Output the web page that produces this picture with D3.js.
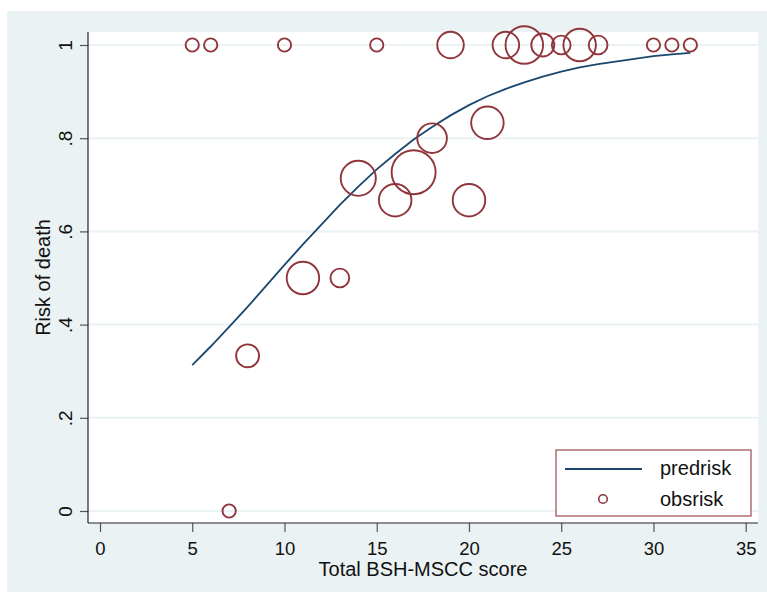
<!DOCTYPE html>
<html>
<head>
<meta charset="utf-8">
<script src="https://cdn.jsdelivr.net/npm/d3@7"></script>
<style>
  body { margin: 0; background: #fff; }
  text { font-family: "Liberation Sans", Arial, sans-serif; fill: #111; }
</style>
</head>
<body>
<div id="plot"></div>
<script>
// data
const scores   = [5, 6, 7, 8, 10, 11, 13, 14, 15, 16, 17, 18, 19, 20, 21, 22, 23, 24, 25, 26, 27, 30, 31, 32];
const obsrisk  = [1, 1, 0, 0.333, 1, 0.5, 0.5, 0.714, 1, 0.667, 0.727, 0.8, 1, 0.667, 0.833, 1, 1, 1, 1, 1, 1, 1, 1, 1];
const counts   = [1, 1, 1, 3, 1, 6, 2, 7, 1, 6, 11, 5, 4, 6, 6, 4, 8, 3, 2, 6, 2, 1, 1, 1];
const predrisk = [0.313, 0.353, 0.395, 0.438, 0.528, 0.572, 0.657, 0.696, 0.733, 0.766, 0.797, 0.824,
                  0.849, 0.871, 0.890, 0.906, 0.920, 0.932, 0.943, 0.952, 0.959, 0.976, 0.980, 0.983];
const xTicks = [0, 5, 10, 15, 20, 25, 30, 35];
const yTicks = [0, 0.2, 0.4, 0.6, 0.8, 1];
const yTickLabels = ["0", ".2", ".4", ".6", ".8", "1"];

const w = 767;
const h = 595;
const plot = {left: 88, right: 758, top: 32, bottom: 523};

const maroon = "#90353b";
const navy = "#1a476f";

const svg = d3.select("div#plot")
  .append("svg")
  .attr("width", w)
  .attr("height", h);

// outer graph region + white plot region
svg.append("rect")
  .attr("x", 7).attr("y", 11)
  .attr("width", w - 7).attr("height", 581)
  .attr("fill", "#eaf2f3");

svg.append("rect")
  .attr("x", plot.left).attr("y", plot.top)
  .attr("width", plot.right - plot.left).attr("height", plot.bottom - plot.top)
  .attr("fill", "#fff");

const xScale = d3.scaleLinear().domain([0, 35]).range([100, 745.7]);
const yScale = d3.scaleLinear().domain([0, 1]).range([511, 45]);
const rScale = d3.scaleSqrt().domain([0, 11]).range([0, 22]);

// grid lines
svg.append("g")
  .selectAll("line")
  .data(yTicks)
  .enter()
  .append("line")
  .attr("x1", plot.left).attr("x2", plot.right)
  .attr("y1", d => yScale(d)).attr("y2", d => yScale(d))
  .attr("stroke", "#eaf2f3")
  .attr("stroke-width", 2);

// y axis
const yAxis = svg.append("g")
  .attr("transform", `translate(${plot.left},0)`)
  .call(d3.axisLeft(yScale)
    .tickValues(yTicks)
    .tickSize(8)
    .tickSizeOuter(0)
    .tickFormat((d, i) => yTickLabels[i]));
yAxis.select(".domain").remove();
yAxis.selectAll(".tick line").attr("stroke", "#555").attr("stroke-width", 1.2);
yAxis.selectAll(".tick text")
  .attr("transform", "rotate(-90)")
  .attr("x", 0)
  .attr("y", -16)
  .attr("dy", 0)
  .attr("text-anchor", "middle")
  .style("font-size", "19px")
  .style("font-family", "Liberation Sans, Arial, sans-serif")
  .attr("fill", "#111");

// x axis
const xAxis = svg.append("g")
  .attr("transform", `translate(0,${plot.bottom})`)
  .call(d3.axisBottom(xScale)
    .tickValues(xTicks)
    .tickSize(9)
    .tickSizeOuter(0)
    .tickFormat(d3.format("d")));
xAxis.select(".domain").remove();
xAxis.selectAll(".tick line").attr("stroke", "#555").attr("stroke-width", 1.2);
xAxis.selectAll(".tick text")
  .attr("y", 32)
  .attr("dy", 0)
  .style("font-size", "18.5px")
  .style("font-family", "Liberation Sans, Arial, sans-serif")
  .attr("fill", "#111");

// axis lines
svg.append("line")
  .attr("x1", plot.left).attr("x2", plot.left)
  .attr("y1", plot.top).attr("y2", plot.bottom)
  .attr("stroke", "#222").attr("stroke-width", 1.2);
svg.append("line")
  .attr("x1", plot.left).attr("x2", plot.right)
  .attr("y1", plot.bottom).attr("y2", plot.bottom)
  .attr("stroke", "#222").attr("stroke-width", 1.2);

// axis titles
svg.append("text")
  .attr("x", (plot.left + plot.right) / 2)
  .attr("y", 576)
  .attr("text-anchor", "middle")
  .style("font-size", "20px")
  .text("Total BSH-MSCC score");

svg.append("text")
  .attr("transform", `translate(50,${(plot.top + plot.bottom) / 2}) rotate(-90)`)
  .attr("text-anchor", "middle")
  .style("font-size", "20px")
  .text("Risk of death");

// predicted risk line
const line = d3.line()
  .x((d, i) => xScale(scores[i]))
  .y(d => yScale(d));

svg.append("path")
  .datum(predrisk)
  .attr("d", line)
  .attr("fill", "none")
  .attr("stroke", navy)
  .attr("stroke-width", 1.8);

// observed risk, circle area by count
svg.append("g")
  .selectAll("circle")
  .data(obsrisk)
  .enter()
  .append("circle")
  .attr("cx", (d, i) => xScale(scores[i]))
  .attr("cy", d => yScale(d))
  .attr("r", (d, i) => rScale(counts[i]))
  .attr("fill", "none")
  .attr("stroke", maroon)
  .attr("stroke-width", 1.9);

// legend
const legend = svg.append("g");
legend.append("rect")
  .attr("x", 556).attr("y", 450)
  .attr("width", 195).attr("height", 66)
  .attr("fill", "#fff")
  .attr("stroke", "#9b4a50")
  .attr("stroke-width", 1.2);
legend.append("line")
  .attr("x1", 565).attr("x2", 642)
  .attr("y1", 469).attr("y2", 469)
  .attr("stroke", navy).attr("stroke-width", 1.8);
legend.append("circle")
  .attr("cx", 603).attr("cy", 499)
  .attr("r", 4.3)
  .attr("fill", "none")
  .attr("stroke", maroon).attr("stroke-width", 1.6);
legend.append("text")
  .attr("x", 660).attr("y", 475)
  .style("font-size", "20px")
  .text("predrisk");
legend.append("text")
  .attr("x", 660).attr("y", 506)
  .style("font-size", "20px")
  .text("obsrisk");
</script>
</body>
</html>
